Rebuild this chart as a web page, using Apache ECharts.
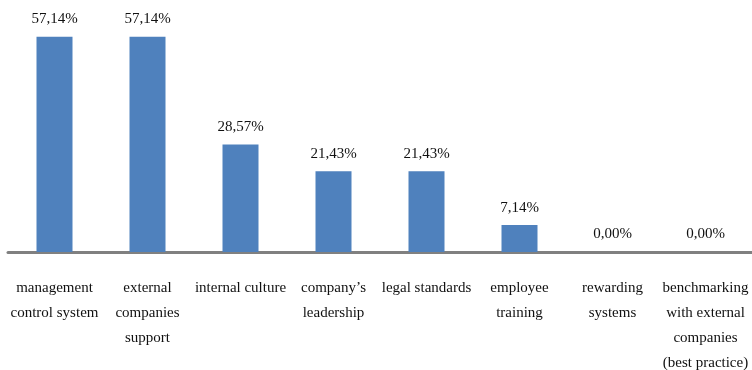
<!DOCTYPE html>
<html>
<head>
<meta charset="utf-8">
<script src="https://cdn.jsdelivr.net/npm/echarts@6/dist/echarts.min.js"></script>
<style>
  html, body { margin: 0; padding: 0; background: #fff; }
  #chart { width: 752px; height: 370px; }
</style>
</head>
<body>
<div id="chart"></div>
<script>
// Factors named by respondents (share of answers, %)
const categories = [
  'management\ncontrol system',
  'external\ncompanies\nsupport',
  'internal culture',
  'company\u2019s\nleadership',
  'legal standards',
  'employee\ntraining',
  'rewarding\nsystems',
  'benchmarking\nwith external\ncompanies\n(best practice)'
];
const shares = [57.14, 57.14, 28.57, 21.43, 21.43, 7.14, 0.00, 0.00];

const chart = echarts.init(document.getElementById('chart'), null, { renderer: 'canvas' });

const serif = '"Liberation Serif", "DejaVu Serif", serif';

chart.setOption({
  animation: false,
  grid: { left: 8, right: 0, top: 26, bottom: 118, containLabel: false, outerBoundsMode: 'none' },
  xAxis: {
    type: 'category',
    data: categories,
    axisLine: { show: true, lineStyle: { color: '#808080', width: 3 } },
    axisTick: { show: false },
    axisLabel: {
      interval: 0,
      margin: 24,
      color: '#111',
      fontFamily: serif,
      fontSize: 15,
      lineHeight: 25
    }
  },
  yAxis: {
    type: 'value',
    min: 0,
    max: 60,
    show: false,
    splitLine: { show: false }
  },
  series: [{
    type: 'bar',
    data: shares,
    barWidth: 36,
    itemStyle: { color: '#4F81BD' },
    label: {
      show: true,
      position: 'top',
      distance: 10,
      color: '#111',
      fontFamily: serif,
      fontSize: 15,
      formatter: p => p.value.toFixed(2).replace('.', ',') + '%'
    }
  }]
});
</script>
</body>
</html>
